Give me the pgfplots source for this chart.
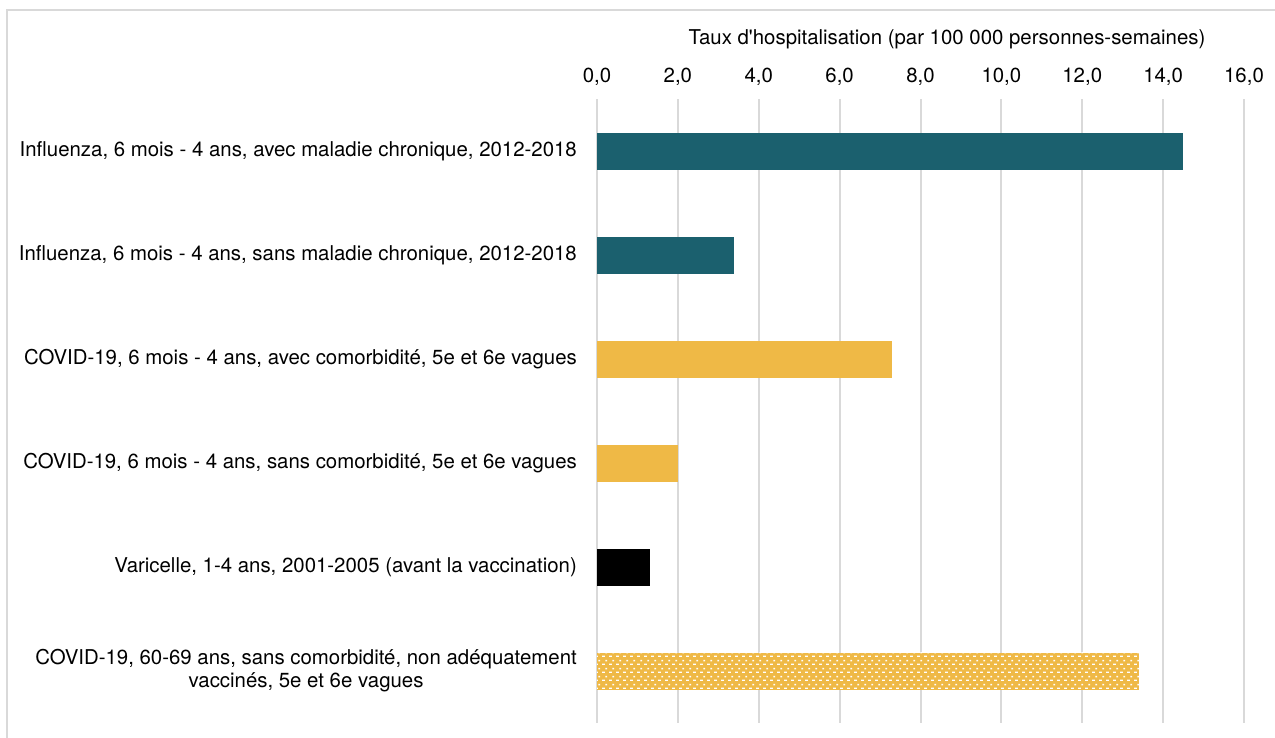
\documentclass[border=0pt]{standalone}
\usepackage{fontspec}
\setmainfont{TeX Gyre Heros}
\usepackage{pgfplots}
\pgfplotsset{compat=1.18}
\usetikzlibrary{patterns}
\definecolor{teal}{HTML}{1B606E}
\definecolor{gold}{HTML}{EFB946}
\definecolor{gridgray}{HTML}{D9D9D9}
\pgfdeclarepatternformonly{dashpat}{\pgfpointorigin}{\pgfqpoint{3.5pt}{4pt}}{\pgfqpoint{3.5pt}{4pt}}{%
  \pgfpathrectangle{\pgfqpoint{0pt}{0.6pt}}{\pgfqpoint{1.6pt}{0.7pt}}%
  \pgfpathrectangle{\pgfqpoint{1.9pt}{2.6pt}}{\pgfqpoint{1pt}{0.7pt}}%
  \pgfusepath{fill}}
\begin{document}
\fontsize{10.2}{12}\selectfont
\begin{tikzpicture}
\useasboundingbox (0,0) rectangle (637.5pt,369pt);
\draw[gridgray, line width=0.8pt] (3.5pt,0) -- (3.5pt,364pt) -- (637.5pt,364pt);
\begin{axis}[
  at={(298.5pt,7.5pt)}, anchor=south west,
  scale only axis, width=323.5pt, height=312pt,
  xmin=0, xmax=16, ymin=-0.5, ymax=5.5,
  y dir=reverse,
  xtick={0,2,...,16},
  ytick={0,1,2,3,4,5},
  yticklabels={{Influenza, 6 mois - 4 ans, avec maladie chronique, 2012-2018},
    {Influenza, 6 mois - 4 ans, sans maladie chronique, 2012-2018},
    {COVID-19, 6 mois - 4 ans, avec comorbidité, 5e et 6e vagues},
    {COVID-19, 6 mois - 4 ans, sans comorbidité, 5e et 6e vagues},
    {Varicelle, 1-4 ans, 2001-2005 (avant la vaccination)},
    {COVID-19, 60-69 ans, sans comorbidité, non adéquatement\\[-0.5pt]vaccinés, 5e et 6e vagues}},
  xticklabel pos=top,
  axis line style={draw=none},
  major tick length=0pt,
  xmajorgrids,
  major grid style={gridgray, line width=1pt},
  /pgf/number format/.cd, fixed, fixed zerofill, precision=1, use comma, assume math mode=true,
  /pgfplots/.cd,
  xticklabel style={yshift=3.2pt},
  yticklabel style={align=center, xshift=-6.5pt},
  xbar, bar width=18.5pt, bar shift=0pt,
  clip=false,
]
\addplot[draw=none, fill=teal] coordinates {(14.5,0)};
\addplot[draw=none, fill=teal] coordinates {(3.4,1)};
\addplot[draw=none, fill=gold] coordinates {(7.3,2)};
\addplot[draw=none, fill=gold] coordinates {(2.0,3)};
\addplot[draw=none, fill=black] coordinates {(1.3,4)};
\addplot[draw=none, fill=gold, postaction={pattern=dashpat, pattern color=white}] coordinates {(13.4,5)};
\end{axis}
\node[anchor=center] at (473.5pt,349.5pt) {Taux d\textquotesingle hospitalisation (par 100 000 personnes-semaines)};
\end{tikzpicture}
\end{document}
